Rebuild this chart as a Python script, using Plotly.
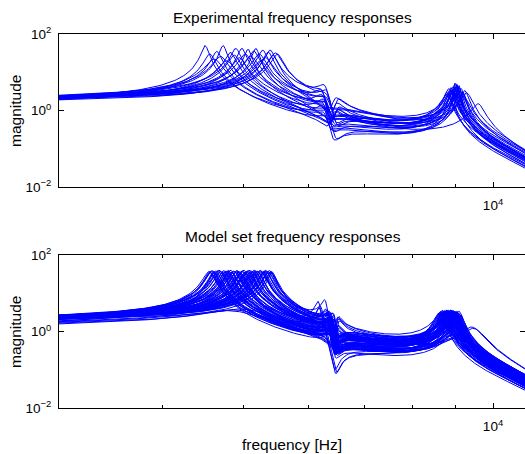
import numpy as np
import plotly.graph_objects as go

# frequency grid of the responses [Hz]
freq = np.arange(2990.0, 10950.0, 21.533)

# ---------------- Experimental frequency responses (one value per curve) ----------------
exp_f1  = [4500, 4560, 4620, 4650, 4700, 4730, 4780, 4830, 4880, 4900, 4950, 4985, 5030,
           5070, 5110, 5150, 5180, 5230, 5250, 5280, 5320, 5360, 5390, 5430, 5470, 5500]
exp_pk1 = [50, 30, 22, 35, 26, 50, 20, 33, 28, 42, 24, 42, 30,
           40, 26, 36, 42, 30, 20, 38, 24, 34, 38, 28, 32, 30]
exp_g0  = [2.2, 2.0, 2.3, 2.1, 2.4, 2.2, 1.95, 2.3, 2.1, 2.5, 2.0, 2.2, 2.35,
           2.05, 2.25, 2.4, 2.1, 2.3, 1.9, 2.2, 2.45, 2.0, 2.3, 2.15, 2.4, 2.25]
exp_f2  = [6250, 6300, 6420, 6280, 6450, 6260, 6300, 6480, 6350, 6280, 6470, 6240, 6320,
           6500, 6300, 6230, 6460, 6290, 6260, 6310, 6440, 6330, 6280, 6490, 6240, 6320]
exp_fz2 = [6420, 6360, 6340, 6350, 6380, 6460, 6370, 6400, 6420, 6340, 6390, 6420, 6390,
           6420, 6360, 6400, 6370, 6370, 6320, 6480, 6360, 6400, 6460, 6410, 6310, 6380]
exp_f3  = [8900, 9000, 8800, 9100, 8950, 9050, 8850, 9150, 9000, 8900, 9200, 9050, 8950,
           9100, 8800, 9000, 9250, 8900, 9600, 9050, 9150, 8850, 9000, 9300, 8950, 9100]
exp_pk3 = [3.5, 4.0, 3.0, 4.5, 3.2, 5.0, 2.8, 3.8, 4.2, 3.4, 3.0, 4.6, 3.6,
           4.0, 2.6, 5.2, 3.3, 3.9, 1.5, 4.4, 3.1, 3.7, 4.8, 2.9, 4.1, 3.5]

# ---------------- Model set frequency responses (one value per curve) ----------------
mod_f1  = [4550, 4570, 4590, 4610, 4630, 4650, 4680, 4700, 4720, 4740, 4760, 4790,
           4810, 4830, 4850, 4870, 4900, 4920, 4940, 4960, 4990, 5010, 5030, 5050,
           5070, 5100, 5120, 5140, 5160, 5180, 5200, 5220, 5240, 5260, 5280, 5300,
           5320, 5340, 5360, 5380, 5400, 5420, 4600, 4800, 5000, 4950, 5050, 4900,
           4560, 4580, 4620, 4660, 4690, 4730, 4770, 4800, 4840, 4880, 4910, 4950,
           4980, 5020, 5060, 5090, 5130, 5170, 5210, 5250, 5290, 5330, 5370, 5410]
mod_pk1 = [37, 35, 39, 36, 38, 34, 40, 37, 35, 39, 36, 38,
           37, 40, 35, 38, 36, 39, 37, 34, 38, 40, 36, 37,
           39, 35, 38, 37, 40, 36, 38, 35, 39, 37, 36, 38,
           40, 35, 37, 39, 36, 34, 30, 32, 28, 3.6, 3.8, 3.4,
           36, 38, 35, 39, 37, 36, 38, 40, 35, 37, 39, 36,
           38, 35, 37, 40, 36, 38, 37, 39, 35, 38, 36, 37]
mod_g0  = [2.4, 2.2, 2.6, 2.3, 2.5, 2.1, 2.7, 2.35, 2.2, 2.55, 2.3, 2.45,
           2.25, 2.6, 2.15, 2.4, 2.3, 2.65, 2.2, 2.05, 2.5, 2.6, 2.3, 2.4,
           2.55, 2.1, 2.45, 2.35, 2.7, 2.25, 2.5, 2.15, 2.6, 2.4, 2.3, 2.5,
           2.65, 2.2, 2.4, 2.55, 2.3, 2.1, 1.85, 1.9, 1.8, 1.58, 1.66, 1.74,
           2.3, 2.5, 2.2, 2.6, 2.4, 2.35, 2.55, 2.25, 2.45, 2.6, 2.3, 2.5,
           2.2, 2.4, 2.65, 2.35, 2.5, 2.3, 2.45, 2.6, 2.25, 2.4, 2.55, 2.35]
mod_f2  = [6180, 6400, 6350, 6440, 6480, 6380, 6420, 6200, 6370, 6430, 6500, 6390,
           6450, 6340, 6400, 6160, 6410, 6360, 6490, 6330, 6400, 6430, 6370, 6300,
           6410, 6350, 6510, 6390, 6320, 6450, 6380, 6420, 6280, 6360, 6440, 6480,
           6340, 6410, 6370, 6440, 6350, 6500, 6380, 6360, 6400, 6380, 6330, 6400,
           6390, 6360, 6420, 6340, 6470, 6400, 6380, 6430, 6350, 6410, 6490, 6370,
           6440, 6330, 6400, 6360, 6420, 6380, 6500, 6350, 6410, 6390, 6430, 6370]
mod_fz2 = [6460, 6470, 6420, 6500, 6420, 6450, 6490, 6480, 6440, 6500, 6440, 6460,
           6520, 6410, 6460, 6450, 6480, 6430, 6430, 6400, 6480, 6490, 6430, 6450,
           6470, 6420, 6450, 6450, 6400, 6510, 6440, 6480, 6460, 6420, 6510, 6430,
           6410, 6470, 6440, 6500, 6420, 6440, 6450, 6430, 6460, 6440, 6420, 6460,
           6450, 6430, 6480, 6410, 6420, 6460, 6450, 6490, 6420, 6470, 6430, 6440,
           6500, 6400, 6470, 6430, 6480, 6450, 6440, 6420, 6470, 6460, 6490, 6440]
mod_f3  = [8700, 8800, 8900, 9000, 8650, 8750, 8850, 8950, 9050, 9100, 8600, 8700,
           8800, 8900, 9000, 9150, 8750, 8850, 8950, 9050, 8650, 8800, 8900, 9000,
           9100, 8700, 8850, 8950, 9050, 8750, 8900, 9000, 8800, 8950, 9100, 8700,
           8850, 9000, 9450, 8900, 9500, 8800, 9000, 8900, 9100, 8950, 9050, 9000,
           8750, 8850, 8950, 9050, 8700, 8800, 8900, 9000, 9100, 8650, 8750, 8850,
           8950, 9050, 8800, 8900, 9000, 8700, 8850, 8950, 9050, 8800, 8900, 9000]
mod_pk3 = [3.2, 3.5, 3.0, 3.4, 2.8, 3.3, 3.6, 3.1, 3.4, 2.9, 3.0, 3.5,
           3.2, 3.6, 3.3, 2.7, 3.4, 3.1, 3.5, 3.2, 2.9, 3.6, 3.3, 3.0,
           3.4, 3.1, 3.5, 3.2, 2.8, 3.3, 3.6, 3.0, 3.4, 3.2, 2.9, 3.5,
           3.1, 3.3, 1.3, 3.4, 1.2, 3.0, 2.2, 2.4, 2.0, 0.8, 0.7, 0.9,
           3.3, 3.1, 3.5, 3.2, 3.0, 3.4, 3.6, 3.1, 2.9, 3.3, 3.5, 3.2,
           3.4, 3.0, 3.6, 3.3, 3.1, 3.4, 3.2, 3.5, 3.0, 3.3, 3.4, 3.2]

# shared shape constants of the dynamics
FW, ZW = 3600.0, 0.5          # low-pass corner
FZ3, ZZ3 = 8500.0, 0.3        # broad anti-resonance before the third mode
FZN, FPN, ZN = 11300.0, 11600.0, 0.03   # zero/pole pair just above the plotted band
EXP_Z2 = 0.012
MOD_Z2 = 0.007
F_REF = 3000.0


def sec(f, fn, z):
    r = np.asarray(f, dtype=float) / fn
    return 1.0 - r * r + 2j * z * r


def curve(f, f1, pk1, g0, f2, fz2, z2, f3, pk3):
    def base(x):
        num = sec(x, fz2, z2) * sec(x, FZ3, ZZ3) * sec(x, FZN, ZN)
        den = sec(x, f2, z2) * sec(x, FW, ZW) * sec(x, FPN, ZN)
        return num / den
    z1, z3 = 0.01, 0.01
    K = 1.0
    for _ in range(4):
        K = g0 / abs(base(F_REF) / (sec(F_REF, f1, z1) * sec(F_REF, f3, z3)))
        z1 = abs(K * base(f1) / sec(f1, f3, z3)) / (2 * pk1)
        z3 = abs(K * base(f3) / sec(f3, f1, z1)) / (2 * pk3)
    return np.abs(K * base(f) / (sec(f, f1, z1) * sec(f, f3, z3)))


BLUE = '#0000ff'
LW = 1.0
FONT = 'Liberation Sans, Arial, Helvetica, sans-serif'

fig = go.Figure()
for i in range(len(exp_f1)):
    y = curve(freq, exp_f1[i], exp_pk1[i], exp_g0[i], exp_f2[i], exp_fz2[i], EXP_Z2,
              exp_f3[i], exp_pk3[i])
    fig.add_trace(go.Scatter(x=freq, y=y, mode='lines', line=dict(color=BLUE, width=LW),
                             xaxis='x', yaxis='y', showlegend=False, hoverinfo='skip'))
for i in range(len(mod_f1)):
    y = curve(freq, mod_f1[i], mod_pk1[i], mod_g0[i], mod_f2[i], mod_fz2[i], MOD_Z2,
              mod_f3[i], mod_pk3[i])
    fig.add_trace(go.Scatter(x=freq, y=y, mode='lines', line=dict(color=BLUE, width=LW),
                             xaxis='x2', yaxis='y2', showlegend=False, hoverinfo='skip'))
# carriers for the right-hand tick marks
fig.add_trace(go.Scatter(x=[None], y=[None], xaxis='x', yaxis='y3', showlegend=False))
fig.add_trace(go.Scatter(x=[None], y=[None], xaxis='x2', yaxis='y4', showlegend=False))

XR = [np.log10(3000.0), np.log10(10928.0)]
tickfont = dict(family=FONT, size=13.5, color='black')
xcommon = dict(type='log', range=XR, showgrid=False, zeroline=False, showline=True,
               linecolor='black', linewidth=1, mirror='ticks', ticks='inside', ticklen=5,
               tickwidth=1, tickcolor='black', tickvals=[10000], ticktext=['10<sup>4</sup>'],
               minor=dict(tickvals=[4000, 5000, 6000, 7000, 8000, 9000], ticks='inside',
                          ticklen=3, tickwidth=1, tickcolor='black'),
               tickfont=tickfont, ticklabelstandoff=6)
ycommon = dict(type='log', range=[-2, 2], showgrid=False, zeroline=False, showline=True,
               linecolor='black', linewidth=1, mirror=False, ticks='inside', ticklen=5,
               tickwidth=1, tickcolor='black', tickvals=[0.01, 1, 100],
               ticktext=['10<sup>−2</sup>', '10<sup>0</sup>', '10<sup>2</sup>'],
               tickfont=tickfont, ticklabelstandoff=4)
yright = dict(type='log', range=[-2, 2], showgrid=False, zeroline=False, showline=False,
              side='right', ticks='inside', ticklen=5, tickwidth=1, tickcolor='black',
              tickvals=[1], showticklabels=False)

TOP = [(408 - 187) / 374, 1.0]
BOT = [0.0, (408 - 255) / 374]

fig.update_layout(
    width=525, height=454,
    margin=dict(l=59, r=0, t=34, b=46, pad=0),
    paper_bgcolor='white', plot_bgcolor='white',
    font=dict(family=FONT, color='black'),
    xaxis=dict(xcommon, anchor='y', domain=[0, 1]),
    yaxis=dict(ycommon, anchor='x', domain=TOP),
    xaxis2=dict(xcommon, anchor='y2', domain=[0, 1]),
    yaxis2=dict(ycommon, anchor='x2', domain=BOT),
    yaxis3=dict(yright, overlaying='y', anchor='x'),
    yaxis4=dict(yright, overlaying='y2', anchor='x2'),
    annotations=[
        dict(text='Experimental frequency responses', xref='paper', yref='paper',
             x=0.502, y=(408 - 17) / 374, xanchor='center', yanchor='middle',
             showarrow=False, font=dict(family=FONT, size=15.5, color='black')),
        dict(text='Model set frequency responses', xref='paper', yref='paper',
             x=0.502, y=(408 - 237) / 374, xanchor='center', yanchor='middle',
             showarrow=False, font=dict(family=FONT, size=15.5, color='black')),
        dict(text='magnitude', xref='paper', yref='paper', textangle=-90,
             x=(15 - 59) / 466, y=(408 - 111) / 374, xanchor='center', yanchor='middle',
             showarrow=False, font=dict(family=FONT, size=15.5, color='black')),
        dict(text='magnitude', xref='paper', yref='paper', textangle=-90,
             x=(15 - 59) / 466, y=(408 - 332) / 374, xanchor='center', yanchor='middle',
             showarrow=False, font=dict(family=FONT, size=15.5, color='black')),
        dict(text='frequency [Hz]', xref='paper', yref='paper',
             x=(292 - 59) / 466, y=(408 - 444) / 374, xanchor='center', yanchor='middle',
             showarrow=False, font=dict(family=FONT, size=15.5, color='black')),
    ],
)

fig.write_html('out.html', config={'displayModeBar': False},
               post_script="document.body.style.margin='0';document.body.style.overflow='hidden';")
